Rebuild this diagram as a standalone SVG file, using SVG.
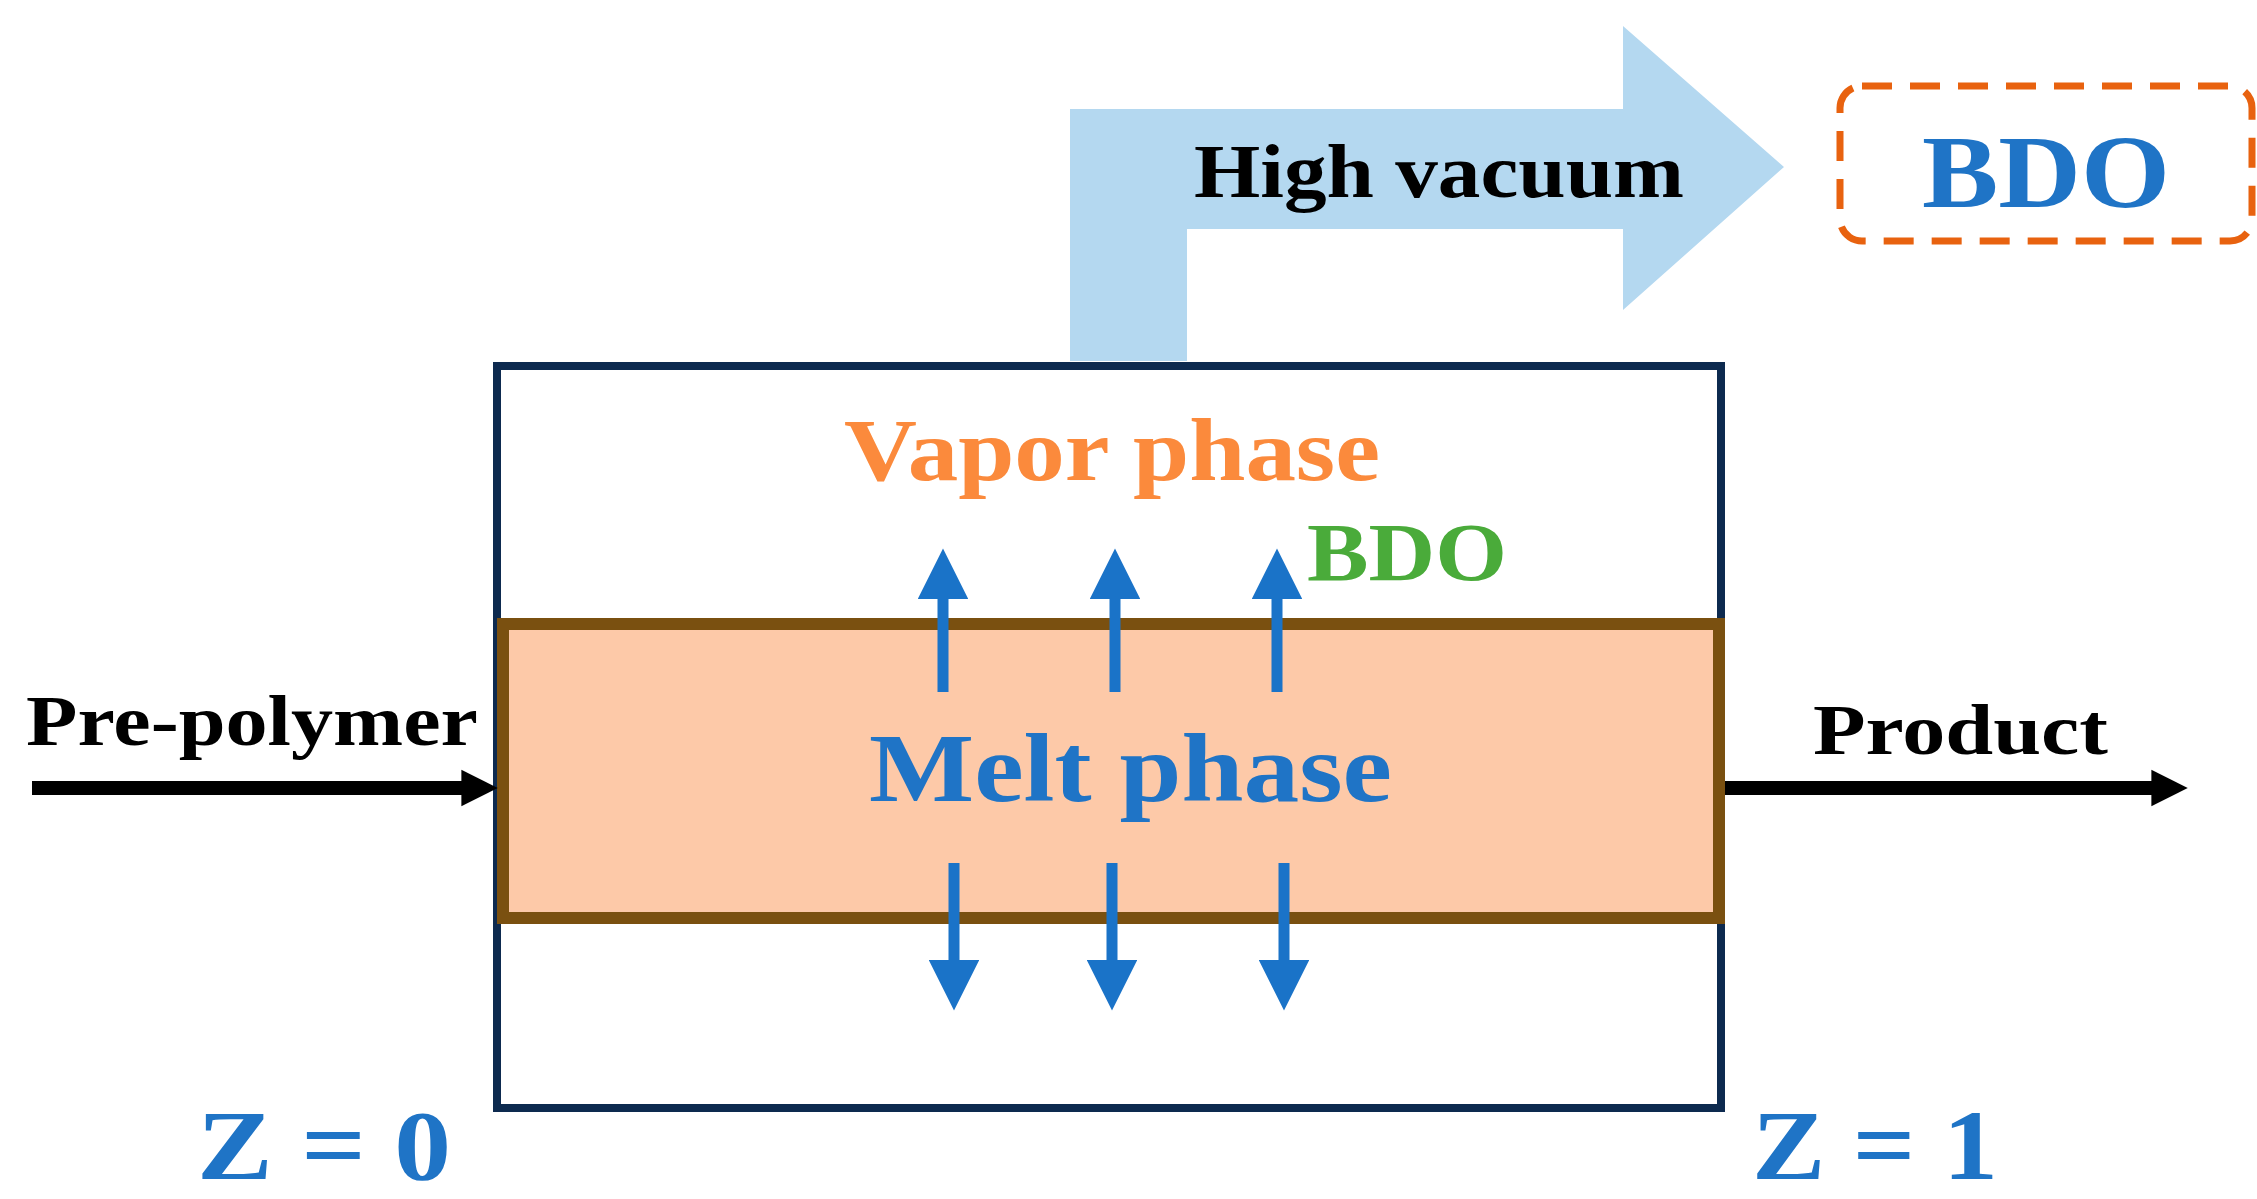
<svg xmlns="http://www.w3.org/2000/svg" width="2257" height="1199" viewBox="0 0 2257 1199">
<style>
text{font-family:"Liberation Serif","Times New Roman",serif;font-weight:bold}
.blue{fill:#1f74c6}
</style>
<defs>
<marker id="bh" viewBox="0 0 10 10" refX="1" refY="5" markerWidth="4.6" markerHeight="4.6" orient="auto" markerUnits="strokeWidth"><path d="M0,0L10,5L0,10z" fill="#1a73c8"/></marker>
<marker id="kh" viewBox="0 0 10 10" refX="1" refY="5" markerWidth="2.6" markerHeight="3" orient="auto" markerUnits="strokeWidth"><path d="M0,0L10,5L0,10z" fill="#000"/></marker>
</defs>
<rect width="2257" height="1199" fill="#fff"/>
<g id="vacuum">
<path d="M1070,361V109H1623V26L1784,167L1623,310V229H1187V361Z" fill="#b4d8f0"/>
<text x="1194" y="197" font-size="76" textLength="490" lengthAdjust="spacingAndGlyphs">High vacuum</text>
</g>
<g id="bdo-out">
<rect x="1840" y="86" width="412" height="155" rx="22" fill="none" stroke="#e8620f" stroke-width="7" stroke-dasharray="30,18"/>
<text x="1922" y="207" font-size="104" class="blue" textLength="248" lengthAdjust="spacingAndGlyphs">BDO</text>
</g>
<g id="reactor">
<rect x="497" y="366" width="1224" height="742" fill="none" stroke="#0d2a4f" stroke-width="8"/>
<text x="844" y="480" font-size="88" fill="#fb8a3c" textLength="536" lengthAdjust="spacingAndGlyphs">Vapor phase</text>
<text x="1307" y="580" font-size="82" fill="#4aab3a" textLength="200" lengthAdjust="spacingAndGlyphs">BDO</text>
</g>
<g id="melt">
<rect x="503" y="624" width="1216" height="294" fill="#fdc9a8" stroke="#7a5010" stroke-width="12"/>
<text x="869" y="801" font-size="98" class="blue" textLength="523" lengthAdjust="spacingAndGlyphs">Melt phase</text>
</g>
<g id="connectors" stroke-width="11" fill="none">
<g stroke="#1a73c8">
<line x1="943" y1="692" x2="943" y2="594" marker-end="url(#bh)"/>
<line x1="1115" y1="692" x2="1115" y2="594" marker-end="url(#bh)"/>
<line x1="1277" y1="692" x2="1277" y2="594" marker-end="url(#bh)"/>
<line x1="954" y1="863" x2="954" y2="965" marker-end="url(#bh)"/>
<line x1="1112" y1="863" x2="1112" y2="965" marker-end="url(#bh)"/>
<line x1="1284" y1="863" x2="1284" y2="965" marker-end="url(#bh)"/>
</g>
<g stroke="#000" stroke-width="14">
<line x1="32" y1="788" x2="465" y2="788" marker-end="url(#kh)"/>
<line x1="1725" y1="788" x2="2155" y2="788" marker-end="url(#kh)"/>
</g>
</g>
<g id="labels">
<text x="26" y="745" font-size="72" textLength="452" lengthAdjust="spacingAndGlyphs">Pre-polymer</text>
<text x="1813" y="754" font-size="72" textLength="295" lengthAdjust="spacingAndGlyphs">Product</text>
<text x="197" y="1179" font-size="100" class="blue" textLength="254" lengthAdjust="spacingAndGlyphs">Z = 0</text>
<text x="1752" y="1179" font-size="100" class="blue" textLength="246" lengthAdjust="spacingAndGlyphs">Z = 1</text>
</g>
</svg>
